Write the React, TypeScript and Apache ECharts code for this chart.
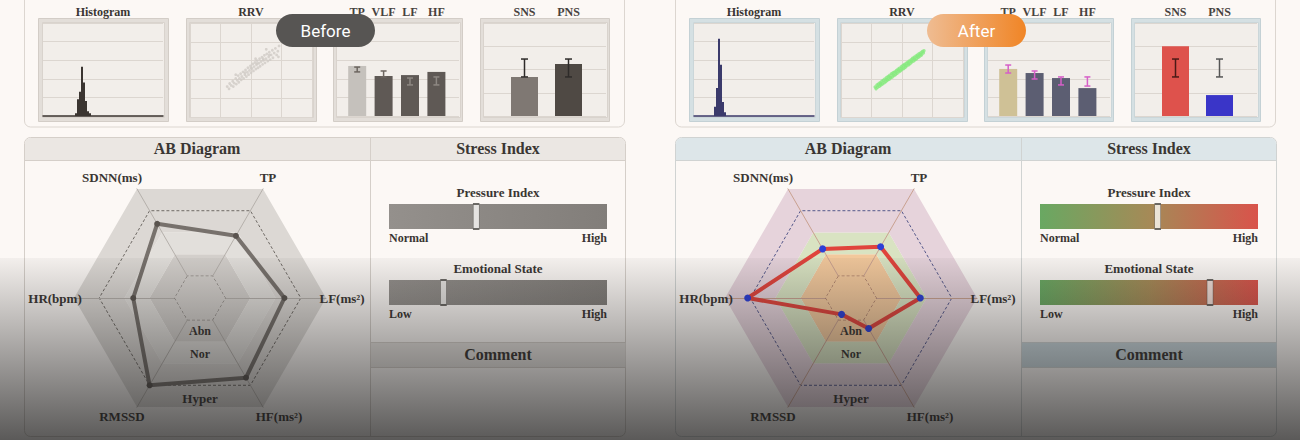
import React, { useEffect, useRef } from 'react';
import * as echarts from 'echarts';

// ---------------- data ----------------
const HIST_BINS = 60;
const histBeforeBins: [number, number][] = [[16, 3], [17, 18], [18, 26], [19, 53], [20, 36], [21, 16], [22, 5], [23, 3]];
const histAfterBins: [number, number][] = [[10, 10], [11, 30], [12, 83], [13, 55], [14, 15], [15, 4]];

const rrvBefore: [number, number][] = [
  [1.22, 1.62], [1.28, 1.5], [1.3, 1.78], [1.35, 1.68], [1.4, 1.9], [1.42, 1.62], [1.45, 1.8], [1.5, 2.05],
  [1.52, 1.75], [1.55, 1.95], [1.58, 2.2], [1.6, 1.85], [1.62, 2.05], [1.66, 2.3], [1.68, 1.98], [1.7, 2.15],
  [1.74, 2.4], [1.76, 2.05], [1.8, 2.25], [1.82, 2.5], [1.85, 2.15], [1.88, 2.38], [1.9, 2.62], [1.92, 2.25],
  [1.95, 2.48], [1.98, 2.72], [2.0, 2.35], [2.03, 2.58], [2.06, 2.82], [2.08, 2.45], [2.1, 2.68], [2.13, 2.9],
  [2.16, 2.55], [2.18, 2.78], [2.2, 3.0], [2.23, 2.62], [2.26, 2.86], [2.28, 3.1], [2.3, 2.7], [2.33, 2.95],
  [2.36, 3.18], [2.38, 2.8], [2.41, 3.02], [2.44, 3.28], [2.46, 2.88], [2.49, 3.1], [2.52, 3.35], [2.55, 2.98],
  [2.58, 3.2], [2.6, 3.45], [2.63, 3.05], [2.66, 3.3], [2.7, 3.55], [2.72, 3.15], [2.76, 3.4], [2.8, 3.65],
  [2.84, 3.3], [2.88, 3.5], [2.92, 3.78], [2.9, 3.2], [2.0, 2.6], [2.2, 2.85], [2.4, 3.1], [1.8, 2.35],
  [2.6, 3.3], [2.15, 3.1], [2.5, 3.6], [1.5, 2.25],
];
const rrvAfter: [number, number][] = [
  [1.12, 1.6], [1.15, 1.5], [1.18, 1.7], [1.2, 1.58], [1.23, 1.76], [1.26, 1.64], [1.28, 1.82], [1.31, 1.7],
  [1.34, 1.9], [1.36, 1.76], [1.39, 1.95], [1.42, 1.82], [1.44, 2.02], [1.47, 1.88], [1.5, 2.1], [1.52, 1.95],
  [1.55, 2.15], [1.58, 2.0], [1.6, 2.22], [1.63, 2.08], [1.66, 2.3], [1.68, 2.12], [1.71, 2.35], [1.74, 2.2],
  [1.76, 2.4], [1.79, 2.26], [1.82, 2.48], [1.84, 2.32], [1.87, 2.54], [1.9, 2.4], [1.92, 2.6], [1.95, 2.46],
  [1.98, 2.68], [2.0, 2.52], [2.03, 2.74], [2.06, 2.58], [2.08, 2.8], [2.11, 2.65], [2.14, 2.86], [2.16, 2.72],
  [2.19, 2.92], [2.22, 2.78], [2.24, 2.98], [2.27, 2.84], [2.3, 3.05], [2.32, 2.92], [2.35, 3.12], [2.38, 2.98],
  [2.4, 3.18], [2.43, 3.04], [2.46, 3.25], [2.48, 3.1], [2.51, 3.3], [2.54, 3.18], [2.56, 3.36], [2.59, 3.24],
  [2.62, 3.42], [2.64, 3.3], [2.67, 3.48], [2.7, 3.4], [2.72, 3.52], [1.3, 1.77], [1.5, 2.0], [1.7, 2.25],
  [1.9, 2.48], [2.1, 2.74], [2.3, 2.97], [2.5, 3.21], [1.6, 2.12], [2.0, 2.6], [2.4, 3.09], [1.8, 2.39],
  [2.2, 2.86], [2.6, 3.33],
];

const bandCategories = ['TP', 'VLF', 'LF', 'HF'];
const bandBefore = [2.69, 2.15, 2.2, 2.37];
const bandAfter = [2.53, 2.31, 2.04, 1.5];
const bandErrBefore: [number, number][] = [[2.37, 2.63], [2.1, 2.42], [1.67, 2.04], [1.67, 2.1]];
const bandErrAfter: [number, number][] = [[2.31, 2.74], [1.99, 2.42], [1.67, 2.1], [1.61, 2.1]];

const ansCategories = ['SNS', 'PNS'];
const ansBefore = [1.68, 2.24];
const ansAfter = [3.0, 0.9];
const ansErrBefore: [number, number][] = [[1.68, 2.45], [1.68, 2.45]];
const ansErrAfter: [number, number][] = [[1.68, 2.45], [1.68, 2.45]];

const radarIndicators = ['SDNN(ms)', 'HR(bpm)', 'RMSSD', 'HF(ms²)', 'LF(ms²)', 'TP'];
const radarBefore = [0.68, 0.53, 0.8, 0.73, 0.67, 0.57];
const radarAfter = [0.45, 0.82, 0.15, 0.28, 0.55, 0.47];
const abnZone = [0.2, 0.2, 0.2, 0.2, 0.2, 0.2];
const zoneLabels = ['Abn', 'Nor', 'Hyper'];

const gaugeTitles = ['Pressure Index', 'Emotional State'];
const gaugeLowLabels = ['Normal', 'Low'];
const gaugeHighLabel = 'High';
const pressureBefore = 0.4;
const emotionBefore = 0.25;
const pressureAfter = 0.54;
const emotionAfter = 0.78;

// ---------------- style ----------------
const SERIF = '"Liberation Serif", "DejaVu Serif", serif';
const BG = '#fcf8f5';
const TEXT = '#3a3633';
// label anchor positions of the radar indicator names (same order as radarIndicators)
const radarNamePos: [number, number][] = [[112, 177], [55, 298], [122, 416], [279, 416], [342, 298], [268, 177]];

const beforeTheme = {
  label: 'Before',
  pill: '#575553' as any,
  frameOuter: '#e3ded9', frameOuterStroke: '#d3cdc7', frameInner: '#f2eeea', frameInnerStroke: '#d9d3cd',
  grid: '#dcd6d0',
  hist: '#3b3531', rrv: '#d0cbc6', rrvSize: 2.8,
  bandColors: ['#c5c1bc', '#5f5955', '#5f5955', '#5f5955'],
  bandErr: ['#6d6660', '#6d6660', '#8e8883', '#8e8883'],
  ansColors: ['#7f7873', '#4f4944'],
  ansErr: ['#2e2b29', '#2e2b29'],
  header: '#ebe7e3', comment: '#e6e2de', border: '#d5cfc9',
  spoke: '#b5b0ab', dash1: '#716b66', dash2: '#6f6a65',
  zones: ['#d3cfcb', '#d3cfcb', '#e2dfdb', '#dcd8d4', '#dcd8d4'],
  line: '#77716c', dot: '#5a544f', dotSize: 6,
  gauge: [{ offset: 0, color: '#94908c' }, { offset: 1, color: '#827e7a' }],
};
const afterTheme = {
  label: 'After',
  pill: new echarts.graphic.LinearGradient(0, 0, 1, 0, [{ offset: 0, color: '#efbc92' }, { offset: 1, color: '#f08526' }]) as any,
  frameOuter: '#d5e0e3', frameOuterStroke: '#c4d1d5', frameInner: '#f2eeea', frameInnerStroke: '#cbd6d9',
  grid: '#dcd6d0',
  hist: '#3b3a6b', rrv: '#86ea7e', rrvSize: 3.4,
  bandColors: ['#cfc196', '#5c5e72', '#5c5e72', '#5c5e72'],
  bandErr: ['#d65fc8', '#d65fc8', '#d65fc8', '#d65fc8'],
  ansColors: ['#de524c', '#3a35c8'],
  ansErr: ['#4a1a16', '#555555'],
  header: '#dde6e9', comment: '#c9d6db', border: '#d0d3d2',
  spoke: '#c9a190', dash1: '#8a5a50', dash2: '#55578a',
  zones: ['#f2c89c', '#f2c89c', '#d9e3c2', '#e6d3db', '#e6d3db'],
  line: '#e0443c', dot: '#2d3fd6', dotSize: 7,
  gauge: [{ offset: 0, color: '#69a862' }, { offset: 0.5, color: '#a58a57' }, { offset: 1, color: '#d9534b' }],
};

function txt(x: number, y: number, text: string, size: number, align = 'center', extra: any = {}) {
  return {
    type: 'text', z: 10, silent: true,
    style: {
      text, x, y, fill: TEXT, fontFamily: SERIF, fontWeight: 'bold', fontSize: size,
      textAlign: align, textVerticalAlign: 'middle', align, verticalAlign: 'middle', ...extra,
    },
  };
}

function errRender(colors: string[], cap: number) {
  return (params: any, api: any) => {
    const x = api.value(0);
    const a = api.coord([x, api.value(1)]);
    const b = api.coord([x, api.value(2)]);
    const style = { stroke: colors[params.dataIndex % colors.length], lineWidth: 1.5 };
    return {
      type: 'group',
      children: [
        { type: 'line', shape: { x1: a[0], y1: a[1], x2: b[0], y2: b[1] }, style },
        { type: 'line', shape: { x1: a[0] - cap, y1: a[1], x2: a[0] + cap, y2: a[1] }, style },
        { type: 'line', shape: { x1: b[0] - cap, y1: b[1], x2: b[0] + cap, y2: b[1] }, style },
      ],
    };
  };
}

function buildSide(opt: any, ox: number, t: any, d: any) {
  const add = (grid: any, xAxis: any, yAxis: any) => {
    opt.grid.push({ outerBoundsMode: 'none', containLabel: false, ...grid });
    const gi = opt.grid.length - 1;
    opt.xAxis.push({ gridIndex: gi, ...xAxis });
    opt.yAxis.push({ gridIndex: gi, ...yAxis });
    return gi;
  };
  const hiddenVal = { type: 'value', show: false, min: 0, max: 1 };
  const split = (n: number) => ({
    type: 'value', min: 0, max: n, interval: 1,
    axisLine: { show: false }, axisTick: { show: false }, axisLabel: { show: false },
    splitLine: { show: true, lineStyle: { color: t.grid, width: 1 } },
  });
  const catLabel = {
    show: true, interval: 0, margin: 5, color: '#47423e', fontFamily: SERIF, fontWeight: 'bold', fontSize: 12,
  };

  // Histogram
  const histData = new Array(HIST_BINS).fill(0);
  d.hist.forEach(([b, v]: [number, number]) => { histData[b] = v; });
  const gh = add(
    { left: 43 + ox, top: 23, width: 120, height: 93 },
    {
      type: 'category', data: histData.map((_, i) => String(i)), boundaryGap: true,
      axisLine: { show: true, lineStyle: { color: t.hist, width: 1.5 } }, axisTick: { show: false }, axisLabel: { show: false },
    },
    { type: 'value', min: 0, max: 100, interval: 20, axisLine: { show: false }, axisTick: { show: false }, axisLabel: { show: false }, splitLine: { show: true, lineStyle: { color: t.grid } } },
  );
  opt.series.push({ type: 'bar', xAxisIndex: gh, yAxisIndex: gh, data: histData, barCategoryGap: '0%', itemStyle: { color: t.hist }, silent: true });

  // RRV scatter
  const gr = add(
    { left: 190 + ox, top: 23, width: 122, height: 94 },
    { ...split(4) },
    { ...split(5) },
  );
  opt.series.push({ type: 'scatter', xAxisIndex: gr, yAxisIndex: gr, data: d.rrv, symbolSize: t.rrvSize, itemStyle: { color: t.rrv }, silent: true });

  // Band bars
  add({ left: 337 + ox, top: 23, width: 122, height: 93 }, hiddenVal, split(5));
  const gb = add(
    { left: 344 + ox, top: 23, width: 105.6, height: 93 },
    { type: 'category', position: 'top', data: bandCategories, axisLine: { show: false }, axisTick: { show: false }, axisLabel: catLabel },
    { type: 'value', min: 0, max: 5, show: false },
  );
  opt.series.push({
    type: 'bar', xAxisIndex: gb, yAxisIndex: gb, barWidth: 18, silent: true,
    data: d.band.map((v: number, i: number) => ({ value: v, itemStyle: { color: t.bandColors[i] } })),
  });
  opt.series.push({
    type: 'custom', xAxisIndex: gb, yAxisIndex: gb, silent: true, z: 3,
    renderItem: errRender(t.bandErr, 3), encode: { x: 0, y: [1, 2] },
    data: d.bandErr.map((e: number[], i: number) => [i, e[0], e[1]]),
  });

  // SNS / PNS
  add({ left: 484 + ox, top: 23, width: 122, height: 93 }, hiddenVal, split(4));
  const ga = add(
    { left: 502.5 + ox, top: 23, width: 88, height: 93 },
    { type: 'category', position: 'top', data: ansCategories, axisLine: { show: false }, axisTick: { show: false }, axisLabel: catLabel },
    { type: 'value', min: 0, max: 4, show: false },
  );
  opt.series.push({
    type: 'bar', xAxisIndex: ga, yAxisIndex: ga, barWidth: 27, silent: true,
    data: d.ans.map((v: number, i: number) => ({ value: v, itemStyle: { color: t.ansColors[i] } })),
  });
  opt.series.push({
    type: 'custom', xAxisIndex: ga, yAxisIndex: ga, silent: true, z: 3,
    renderItem: errRender(t.ansErr, 3.5), encode: { x: 0, y: [1, 2] },
    data: d.ansErr.map((e: number[], i: number) => [i, e[0], e[1]]),
  });

  // Gauges
  const gaugeTops = [204, 280];
  [d.pressure, d.emotion].forEach((val: number, k: number) => {
    const gg = add(
      { left: 389 + ox, top: gaugeTops[k], width: 218, height: 25 },
      { type: 'value', min: 0, max: 1, show: false },
      { type: 'category', data: ['g'], show: false },
    );
    opt.series.push({
      type: 'bar', xAxisIndex: gg, yAxisIndex: gg, data: [1], barWidth: '100%', silent: true,
      itemStyle: { color: new echarts.graphic.LinearGradient(0, 0, 1, 0, t.gauge) },
    });
    opt.series.push({
      type: 'scatter', xAxisIndex: gg, yAxisIndex: gg, data: [[val, 0]], symbol: 'rect', symbolSize: [6, 25], z: 4, silent: true,
      itemStyle: { color: '#fbfaf8', borderColor: '#4a4744', borderWidth: 1 },
    });
  });

  // Radar
  opt.radar.push({
    center: [200 + ox, 298], radius: 126, startAngle: 120, splitNumber: 5, shape: 'polygon',
    indicator: radarIndicators.map((n) => ({ name: n, min: 0, max: 1 })),
    axisName: { show: false },
    axisLine: { lineStyle: { color: t.spoke, width: 1 } },
    axisTick: { show: false }, axisLabel: { show: false },
    splitLine: { show: true, lineStyle: { color: ['transparent', 'transparent', 'transparent', 'transparent', t.dash2, 'transparent'], type: [3, 2], width: 1 } },
    splitArea: { show: true, areaStyle: { color: t.zones } },
  });
  const ri = opt.radar.length - 1;
  opt.series.push({
    type: 'radar', radarIndex: ri, z: 1, silent: true, symbol: 'none',
    data: [{ value: abnZone, lineStyle: { color: t.dash1, width: 1, type: [3, 2] }, areaStyle: { color: t.zones[0], opacity: 1 } }],
  });
  opt.series.push({
    type: 'radar', radarIndex: ri, z: 3, silent: true, symbol: 'circle', symbolSize: t.dotSize,
    data: [{ value: d.radar, lineStyle: { color: t.line, width: 4 }, itemStyle: { color: t.dot }, areaStyle: { opacity: 0 } }],
  });

  // ---------- graphics ----------
  const G = opt.graphic;
  G.push({ type: 'rect', z: -5, silent: true, shape: { x: 24.5 + ox, y: -6, width: 600, height: 133, r: 6 }, style: { fill: BG, stroke: '#dcd6d0', lineWidth: 1 } });
  const frames = [[38, 42, 130, 122], [186, 189, 130, 124], [333, 336, 129, 124], [480, 483, 129, 124]];
  frames.forEach(([ox1, ix1, ow, iw]) => {
    G.push({ type: 'rect', z: -4, silent: true, shape: { x: ox1 + ox + 0.5, y: 18.5, width: ow, height: 103 }, style: { fill: t.frameOuter, stroke: t.frameOuterStroke, lineWidth: 1 } });
    G.push({ type: 'rect', z: -3, silent: true, shape: { x: ix1 + ox + 0.5, y: 22.5, width: iw, height: 95 }, style: { fill: t.frameInner, stroke: t.frameInnerStroke, lineWidth: 1 } });
  });
  G.push(txt(103 + ox, 12, 'Histogram', 12));
  G.push(txt(251 + ox, 12, 'RRV', 12));

  // bottom panel
  G.push({ type: 'rect', z: -5, silent: true, shape: { x: 24.5 + ox, y: 137.5, width: 601, height: 299, r: 6 }, style: { fill: BG, stroke: t.border, lineWidth: 1 } });
  G.push({ type: 'rect', z: -4, silent: true, shape: { x: 25 + ox, y: 138, width: 600, height: 22.5, r: [5.5, 5.5, 0, 0] }, style: { fill: t.header } });
  G.push({ type: 'line', z: -3, silent: true, shape: { x1: 24.5 + ox, y1: 160.5, x2: 625.5 + ox, y2: 160.5 }, style: { stroke: t.border, lineWidth: 1 } });
  G.push({ type: 'line', z: -3, silent: true, shape: { x1: 370.5 + ox, y1: 137.5, x2: 370.5 + ox, y2: 436.5 }, style: { stroke: t.border, lineWidth: 1 } });
  G.push({ type: 'rect', z: -4, silent: true, shape: { x: 371 + ox, y: 342.5, width: 254.5, height: 24.5 }, style: { fill: t.comment } });
  G.push({ type: 'line', z: -3, silent: true, shape: { x1: 370.5 + ox, y1: 342.5, x2: 625.5 + ox, y2: 342.5 }, style: { stroke: t.border, lineWidth: 1 } });
  G.push({ type: 'line', z: -3, silent: true, shape: { x1: 370.5 + ox, y1: 367.5, x2: 625.5 + ox, y2: 367.5 }, style: { stroke: t.border, lineWidth: 1 } });

  G.push(txt(197 + ox, 148.5, 'AB Diagram', 16));
  G.push(txt(498 + ox, 148.5, 'Stress Index', 16));
  G.push(txt(498 + ox, 354.5, 'Comment', 16));
  G.push(txt(498 + ox, 192.5, gaugeTitles[0], 13));
  G.push(txt(389 + ox, 237.5, gaugeLowLabels[0], 12, 'left'));
  G.push(txt(607 + ox, 237.5, gaugeHighLabel, 12, 'right'));
  G.push(txt(498 + ox, 268.5, gaugeTitles[1], 13));
  G.push(txt(389 + ox, 313.5, gaugeLowLabels[1], 12, 'left'));
  G.push(txt(607 + ox, 313.5, gaugeHighLabel, 12, 'right'));

  // radar indicator names and zone labels
  radarIndicators.forEach((n, i) => G.push(txt(radarNamePos[i][0] + ox, radarNamePos[i][1], n, 13)));
  G.push(txt(200 + ox, 331, zoneLabels[0], 12));
  G.push(txt(200 + ox, 354, zoneLabels[1], 12));
  G.push(txt(200 + ox, 398, zoneLabels[2], 13));

  // pill
  G.push({ type: 'rect', z: 20, silent: true, shape: { x: 276 + ox, y: 14, width: 99, height: 33, r: 16.5 }, style: { fill: t.pill } });
  G.push({
    type: 'text', z: 21, silent: true,
    style: { text: t.label, x: 325.5 + ox, y: 31, fill: '#ffffff', fontFamily: 'Roboto, "Open Sans", sans-serif', fontSize: 17, textAlign: 'center', textVerticalAlign: 'middle', align: 'center', verticalAlign: 'middle' },
  });
}

export default function App() {
  const ref = useRef<HTMLDivElement>(null);
  useEffect(() => {
    if (!ref.current) return;
    const chart = echarts.init(ref.current, undefined, { renderer: 'svg' });
    const opt: any = {
      animation: false,
      backgroundColor: BG,
      grid: [], xAxis: [], yAxis: [], radar: [], series: [], graphic: [],
    };
    buildSide(opt, 0, beforeTheme, {
      hist: histBeforeBins, rrv: rrvBefore, band: bandBefore, bandErr: bandErrBefore,
      ans: ansBefore, ansErr: ansErrBefore, radar: radarBefore, pressure: pressureBefore, emotion: emotionBefore,
    });
    buildSide(opt, 651, afterTheme, {
      hist: histAfterBins, rrv: rrvAfter, band: bandAfter, bandErr: bandErrAfter,
      ans: ansAfter, ansErr: ansErrAfter, radar: radarAfter, pressure: pressureAfter, emotion: emotionAfter,
    });
    // photographic darkening towards the bottom
    opt.graphic.push({
      type: 'rect', z: 100, silent: true,
      shape: { x: 0, y: 258, width: 1300, height: 182 },
      style: {
        fill: new echarts.graphic.LinearGradient(0, 0, 0, 1, [
          { offset: 0, color: 'rgba(25,25,25,0.04)' },
          { offset: 1, color: 'rgba(25,25,25,0.71)' },
        ]),
      },
    });
    chart.setOption(opt);
    return () => chart.dispose();
  }, []);
  return <div ref={ref} style={{ position: 'fixed', left: 0, top: 0, width: 1300, height: 440 }} />;
}
